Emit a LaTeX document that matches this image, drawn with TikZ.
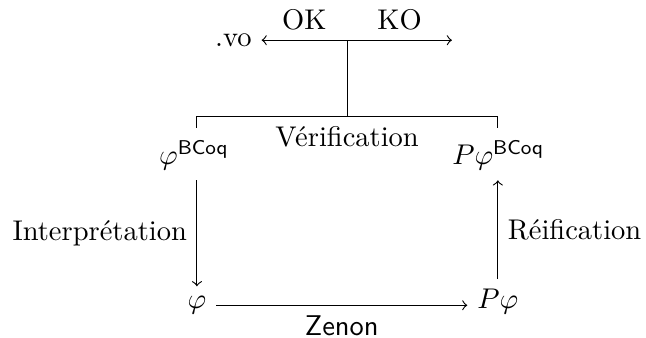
\documentclass[tikz,border=0pt]{standalone}
\usepackage{amsmath,amssymb}
\usetikzlibrary{arrows,positioning,calc}

\begin{document}
\begin{tikzpicture}[>=to, line width=0.4pt,
every node/.style={inner sep=3.33pt}]
\useasboundingbox (0,-1pt) rectangle (226.7pt,117.6pt);
\coordinate (J) at (121.8pt,103.5pt);
\coordinate (Br) at (121.8pt,76.8pt);
\coordinate (Ko) at ($(J)+(36.8pt,0)$);
\node (Vo) [left=30pt of J] {.vo};
\node[anchor=base] (PhiB) at (68.1pt,59.8pt) {$\varphi^{\mathsf{BCoq}}$};
\node[anchor=base] (PPhiB) at (174.9pt,59.8pt) {$P\varphi^{\mathsf{BCoq}}$};
\node[anchor=base] (Phi) at (69.1pt,9.3pt) {$\varphi$};
\node[anchor=base] (PPhi) at (174.7pt,9.3pt) {$P\varphi$};
\node[below] (Verif) at (Br) {Vérification};
\draw[->] (J) -- node[above] {OK} (Vo);
\draw[->] (J) -- node[above] {KO} (Ko);
\draw (J) -- (Br);
\draw ([yshift=1pt]PhiB.north -| Phi) |- (Br) -| ([yshift=1pt]PPhiB.north -| PPhi);
\draw[->] (PhiB.south -| Phi) -- node[left] {Interprétation} (Phi);
\draw[->] (Phi.east) -- node[below] {\textsf{Zenon}} (Phi.east -| PPhi.west);
\draw[->] (PPhi) -- node[right] {Réification} (PPhiB.south -| PPhi);
\end{tikzpicture}
\end{document}
